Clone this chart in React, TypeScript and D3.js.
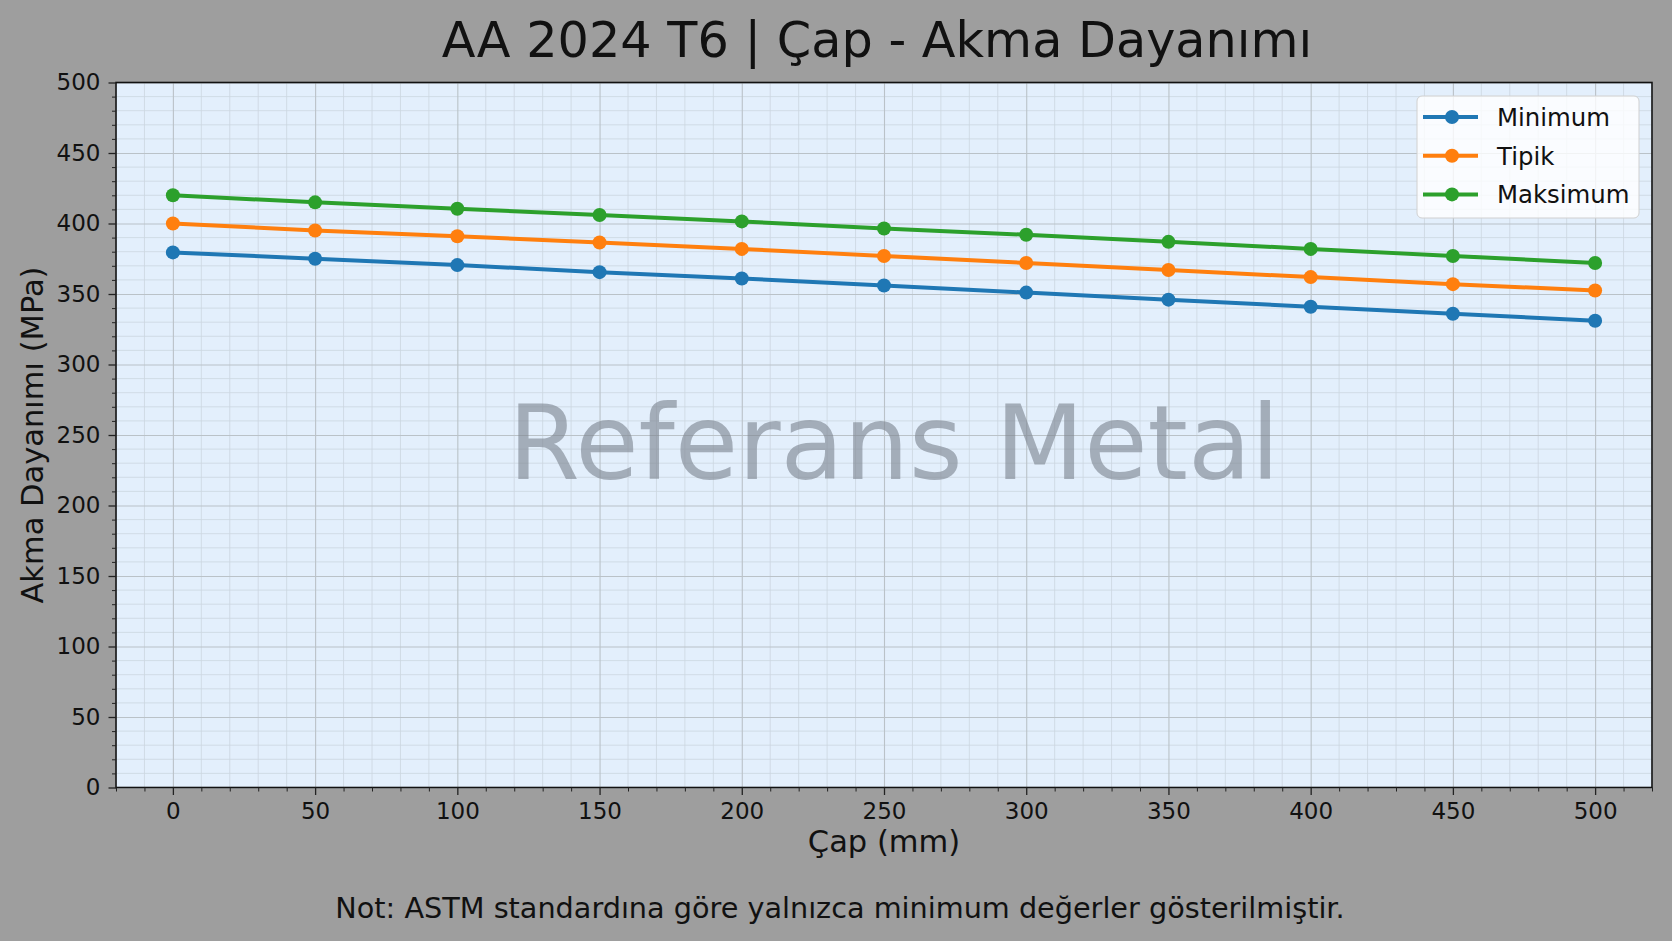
import React, { useRef, useEffect } from 'react'
import * as d3 from 'd3'

// diameters (mm)
const diameters = [0, 50, 100, 150, 200, 250, 300, 350, 400, 450, 500]

// yield strength (MPa)
const minimumValues = [379.5, 375, 370.5, 365.5, 361, 356, 351, 346, 341, 336, 331]
const typicalValues = [400, 395, 391, 386.5, 382, 377, 372, 367, 362, 357, 352.5]
const maximumValues = [420, 415, 410.5, 406, 401.5, 396.5, 392, 387, 382, 377, 372]

const seriesNames = ['Minimum', 'Tipik', 'Maksimum']
const seriesColors = ['#1f77b4', '#ff7f0e', '#2ca02c']

const xTicks = [0, 50, 100, 150, 200, 250, 300, 350, 400, 450, 500]
const yTicks = [0, 50, 100, 150, 200, 250, 300, 350, 400, 450, 500]

const titleText = 'AA 2024 T6 | Çap - Akma Dayanımı'
const xLabelText = 'Çap (mm)'
const yLabelText = 'Akma Dayanımı (MPa)'
const watermarkText = 'Referans Metal'
const noteText = 'Not: ASTM standardına göre yalnızca minimum değerler gösterilmiştir.'

const WIDTH = 1672
const HEIGHT = 941
const FONT = '"DejaVu Sans", sans-serif'

const Chart: React.FC = () => {
  const svgRef = useRef<SVGSVGElement>(null)

  useEffect(() => {
    if (!svgRef.current) return
    const svg = d3.select(svgRef.current)
    svg.selectAll('*').remove()

    const margin = { top: 82.5, right: 20, bottom: 153.5, left: 116 }
    const innerWidth = WIDTH - margin.left - margin.right
    const innerHeight = HEIGHT - margin.top - margin.bottom

    // figure background
    svg.append('rect')
      .attr('width', WIDTH)
      .attr('height', HEIGHT)
      .attr('fill', '#9e9e9e')

    const xScale = d3.scaleLinear().domain([-20, 520]).range([0, innerWidth])
    const yScale = d3.scaleLinear().domain([0, 500]).range([innerHeight, 0])

    const g = svg.append('g')
      .attr('transform', `translate(${margin.left},${margin.top})`)

    // plot background
    g.append('rect')
      .attr('width', innerWidth)
      .attr('height', innerHeight)
      .attr('fill', '#e3effc')

    // minor grid
    const xMinor = d3.range(-20, 521, 10).filter(v => v % 50 !== 0)
    const yMinor = d3.range(0, 501, 10).filter(v => v % 50 !== 0)

    g.append('g')
      .attr('class', 'grid-minor')
      .selectAll('line.vx')
      .data(xMinor)
      .enter()
      .append('line')
      .attr('x1', d => xScale(d))
      .attr('x2', d => xScale(d))
      .attr('y1', 0)
      .attr('y2', innerHeight)
      .attr('stroke', '#cbd6e0')
      .attr('stroke-width', 0.8)

    g.append('g')
      .attr('class', 'grid-minor')
      .selectAll('line.hy')
      .data(yMinor)
      .enter()
      .append('line')
      .attr('x1', 0)
      .attr('x2', innerWidth)
      .attr('y1', d => yScale(d))
      .attr('y2', d => yScale(d))
      .attr('stroke', '#cbd6e0')
      .attr('stroke-width', 0.8)

    // major grid
    g.append('g')
      .attr('class', 'grid')
      .attr('transform', `translate(0,${innerHeight})`)
      .call(d3.axisBottom(xScale).tickValues(xTicks).tickSize(-innerHeight).tickFormat(() => ''))
      .call(s => s.select('.domain').remove())
      .selectAll('line')
      .attr('stroke', '#bac2c8')
      .attr('stroke-width', 1.1)

    g.append('g')
      .attr('class', 'grid')
      .call(d3.axisLeft(yScale).tickValues(yTicks).tickSize(-innerWidth).tickFormat(() => ''))
      .call(s => s.select('.domain').remove())
      .selectAll('line')
      .attr('stroke', '#bac2c8')
      .attr('stroke-width', 1.1)

    // watermark
    g.append('text')
      .attr('x', innerWidth / 2 + 10)
      .attr('y', innerHeight / 2 + 44)
      .attr('text-anchor', 'middle')
      .attr('font-family', FONT)
      .attr('font-size', 103)
      .attr('fill', '#7c8590')
      .attr('fill-opacity', 0.62)
      .text(watermarkText)

    // series
    const seriesData = [minimumValues, typicalValues, maximumValues]
    const line = d3.line<number>()
      .x((_, i) => xScale(diameters[i]))
      .y(d => yScale(d))

    seriesData.forEach((values, si) => {
      g.append('path')
        .datum(values)
        .attr('fill', 'none')
        .attr('stroke', seriesColors[si])
        .attr('stroke-width', 4)
        .attr('stroke-linejoin', 'round')
        .attr('d', line)

      g.selectAll(`.pt-${si}`)
        .data(values)
        .enter()
        .append('circle')
        .attr('class', `pt-${si}`)
        .attr('cx', (_, i) => xScale(diameters[i]))
        .attr('cy', d => yScale(d))
        .attr('r', 7)
        .attr('fill', seriesColors[si])
    })

    // axes frame
    g.append('rect')
      .attr('width', innerWidth)
      .attr('height', innerHeight)
      .attr('fill', 'none')
      .attr('stroke', '#111')
      .attr('stroke-width', 1.6)

    // x axis
    g.append('g')
      .attr('transform', `translate(0,${innerHeight})`)
      .call(d3.axisBottom(xScale).tickValues(xMinor).tickSize(4).tickFormat(() => ''))
      .call(s => s.select('.domain').remove())
      .selectAll('line').attr('stroke', '#222').attr('stroke-width', 1)
    const xMajor = g.append('g')
      .attr('transform', `translate(0,${innerHeight})`)
      .call(d3.axisBottom(xScale).tickValues(xTicks).tickSize(7.5).tickPadding(8).tickFormat(d => String(d)))
    xMajor.select('.domain').remove()
    xMajor.selectAll('line').attr('stroke', '#222').attr('stroke-width', 1.3)
    xMajor.selectAll('text')
      .attr('font-family', FONT)
      .attr('font-size', 23)
      .attr('fill', '#111')

    // y axis
    g.append('g')
      .call(d3.axisLeft(yScale).tickValues(yMinor).tickSize(4).tickFormat(() => ''))
      .call(s => s.select('.domain').remove())
      .selectAll('line').attr('stroke', '#222').attr('stroke-width', 1)
    const yMajor = g.append('g')
      .call(d3.axisLeft(yScale).tickValues(yTicks).tickSize(7.5).tickPadding(8).tickFormat(d => String(d)))
    yMajor.select('.domain').remove()
    yMajor.selectAll('line').attr('stroke', '#222').attr('stroke-width', 1.3)
    yMajor.selectAll('text')
      .attr('font-family', FONT)
      .attr('font-size', 23)
      .attr('fill', '#111')

    // axis labels
    svg.append('text')
      .attr('x', margin.left + innerWidth / 2)
      .attr('y', 852)
      .attr('text-anchor', 'middle')
      .attr('font-family', FONT)
      .attr('font-size', 30.5)
      .attr('fill', '#111')
      .text(xLabelText)

    svg.append('text')
      .attr('transform', `translate(43,${margin.top + innerHeight / 2}) rotate(-90)`)
      .attr('text-anchor', 'middle')
      .attr('font-family', FONT)
      .attr('font-size', 30.5)
      .attr('fill', '#111')
      .text(yLabelText)

    // title
    svg.append('text')
      .attr('x', margin.left + innerWidth / 2 - 7)
      .attr('y', 57)
      .attr('text-anchor', 'middle')
      .attr('font-family', FONT)
      .attr('font-size', 49.3)
      .attr('fill', '#111')
      .text(titleText)

    // footnote
    svg.append('text')
      .attr('x', WIDTH / 2 + 4)
      .attr('y', 918)
      .attr('text-anchor', 'middle')
      .attr('font-family', FONT)
      .attr('font-size', 28.7)
      .attr('fill', '#111')
      .text(noteText)

    // legend
    const legend = svg.append('g').attr('transform', 'translate(1417,96)')
    legend.append('rect')
      .attr('width', 222)
      .attr('height', 122)
      .attr('rx', 5)
      .attr('fill', '#ffffff')
      .attr('fill-opacity', 0.8)
      .attr('stroke', '#d0d0d0')
      .attr('stroke-width', 1)

    seriesNames.forEach((name, i) => {
      const row = legend.append('g').attr('transform', `translate(0,${21 + i * 38.7})`)
      row.append('line')
        .attr('x1', 6)
        .attr('x2', 61)
        .attr('stroke', seriesColors[i])
        .attr('stroke-width', 4)
      row.append('circle')
        .attr('cx', 35)
        .attr('r', 7)
        .attr('fill', seriesColors[i])
      row.append('text')
        .attr('x', 80)
        .attr('y', 9)
        .attr('font-family', FONT)
        .attr('font-size', 24.4)
        .attr('fill', '#111')
        .text(name)
    })
  }, [])

  return (
    <svg
      ref={svgRef}
      width={WIDTH}
      height={HEIGHT}
      style={{ position: 'absolute', left: 0, top: 0, display: 'block' }}
    />
  )
}

export default function App() {
  return <Chart />
}
